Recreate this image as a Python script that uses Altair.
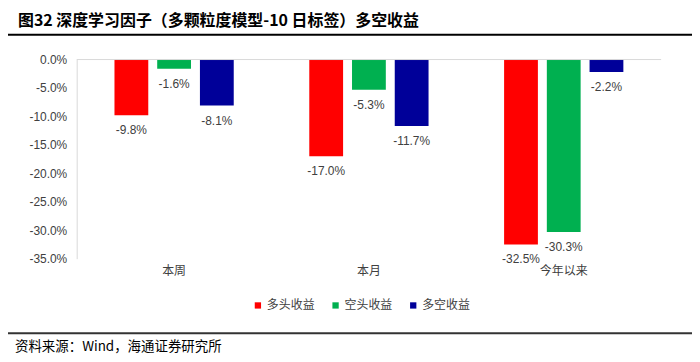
import altair as alt
import pandas as pd

categories = ["本周", "本月", "今年以来"]
series = ["多头收益", "空头收益", "多空收益"]
long_vals = [-0.098, -0.170, -0.325]
short_vals = [-0.016, -0.053, -0.303]
ls_vals = [-0.081, -0.117, -0.022]
colors = ["#FF0000", "#00B050", "#000099"]
y_ticks = [0.0, -0.05, -0.10, -0.15, -0.20, -0.25, -0.30, -0.35]

title_text = "图32 深度学习因子（多颗粒度模型-10 日标签）多空收益"
source_text = "资料来源：Wind，海通证券研究所"

rows = []
for i, c in enumerate(categories):
    for s, vals in zip(series, [long_vals, short_vals, ls_vals]):
        rows.append({"cat": c, "series": s, "value": vals[i]})
df = pd.DataFrame(rows)

CJK = "Noto Sans CJK SC"
LAT = "Liberation Sans"

y_scale = alt.Scale(domain=[-0.35, 0], nice=False, zero=False)
x_scale = alt.Scale(paddingInner=0, paddingOuter=0)
x_axis = alt.Axis(domain=False, ticks=False, labelAngle=0, labelFont=CJK,
                  labelFontSize=12, labelColor="#404040", labelPadding=7)
y_axis = alt.Axis(values=y_ticks, grid=False, ticks=False, domainColor="#d9d9d9",
                  labelOverlap=False, labelBound=False, labelFlush=False,
                  labelExpr="replace(format(datum.value, '.1%'), '\u2212', '-')",
                  labelFont=LAT, labelFontSize=12, labelColor="#404040",
                  labelPadding=10)
x_enc = alt.X("cat:N", sort=categories, title=None, scale=x_scale, axis=x_axis)
y_enc = alt.Y("value:Q", title=None, scale=y_scale, axis=y_axis)
xo_enc = alt.XOffset("series:N", sort=series,
                     scale=alt.Scale(paddingInner=0.209, paddingOuter=0.884))

base = alt.Chart(df)

bars = base.mark_bar().encode(
    x=x_enc, xOffset=xo_enc, y=y_enc,
    color=alt.Color("series:N", sort=series,
                    scale=alt.Scale(domain=series, range=colors),
                    legend=alt.Legend(title=None, orient="none", direction="horizontal",
                                      legendX=176, legendY=241, symbolType="square",
                                      symbolSize=40, symbolStrokeWidth=0,
                                      labelFont=CJK, labelFontSize=12, labelColor="#404040",
                                      columnPadding=14, labelOffset=3)),
)

labels = base.transform_calculate(
    lab="replace(format(datum.value, '.1%'), '\u2212', '-')"
).mark_text(baseline="middle", dy=15, font=LAT, fontSize=12, color="#404040").encode(
    x=x_enc, xOffset=xo_enc, y=y_enc, text="lab:N",
)

dummy = pd.DataFrame({"a": [0]})
zero_rule = alt.Chart(dummy).mark_rule(color="#d9d9d9", strokeWidth=1).encode(
    x=alt.value(0), x2=alt.value(587), y=alt.value(0))

title = alt.Chart(dummy).mark_text(
    text=title_text, align="left", baseline="middle", font=CJK, fontSize=16,
    fontWeight="bold", color="#000000"
).encode(x=alt.value(-59), y=alt.value(-39))

top_line = alt.Chart(dummy).mark_rule(color="#000000", strokeWidth=2).encode(
    x=alt.value(-69), x2=alt.value(618), y=alt.value(-25))
bottom_line = alt.Chart(dummy).mark_rule(color="#333333", strokeWidth=2).encode(
    x=alt.value(-69), x2=alt.value(618), y=alt.value(275))
source = alt.Chart(dummy).mark_text(
    text=source_text, align="left", baseline="middle", font=CJK, fontSize=13.5,
    color="#000000"
).encode(x=alt.value(-62), y=alt.value(289))

chart = alt.layer(bars, labels, zero_rule, title, top_line, bottom_line, source).properties(
    width=587, height=200,
    autosize=alt.AutoSizeParams(type="none"),
    padding={"left": 69, "top": 51, "right": 31, "bottom": 95},
).configure_view(stroke=None)

chart.save("out.html", embed_options={"renderer": "svg", "actions": False})
